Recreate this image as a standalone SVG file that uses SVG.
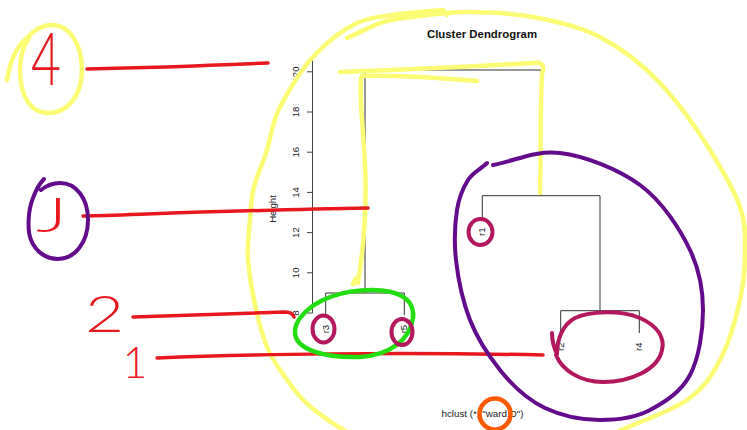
<svg xmlns="http://www.w3.org/2000/svg" width="747" height="430" viewBox="0 0 747 430">
<style>
.bg{fill:#ffffff}
.lbl{font-family:"Liberation Sans",Arial,sans-serif;font-size:9.6px;fill:#222}
.title{font-family:"Liberation Sans",Arial,sans-serif;font-size:11.4px;font-weight:bold;fill:#111}
.dl{fill:none;stroke:#333;stroke-width:1}
.ax{fill:none;stroke:#444;stroke-width:1}
.hand{fill:none;stroke-linecap:round;stroke-linejoin:round}
.yel{stroke:#fcfc74;stroke-width:4.5}
.red{stroke:#e8191e;stroke-width:3.5}
.pur{stroke:#640a8c;stroke-width:4}
.grn{stroke:#22dd0f;stroke-width:4.5}
.mag{stroke:#b3185f;stroke-width:4}
.org{stroke:#ff5a00;stroke-width:4.5}
.num{font-family:Lato,"Open Sans",sans-serif;font-weight:300;fill:#e8191e}
</style>
<rect class="bg" x="0" y="0" width="747" height="430"/>

<text class="title" x="482" y="38.3" text-anchor="middle">Cluster Dendrogram</text>

<g id="axis">
  <path class="ax" d="M312.5,58 V313 M307,313 H312.5 M307,272.8 H312.5 M307,232.6 H312.5 M307,192.4 H312.5 M307,152.2 H312.5 M307,112 H312.5 M307,71.8 H312.5"/>
  <text class="lbl" text-anchor="middle" transform="translate(299,313) rotate(-90)">8</text>
  <text class="lbl" text-anchor="middle" transform="translate(299,272.8) rotate(-90)">10</text>
  <text class="lbl" text-anchor="middle" transform="translate(299,232.6) rotate(-90)">12</text>
  <text class="lbl" text-anchor="middle" transform="translate(299,192.4) rotate(-90)">14</text>
  <text class="lbl" text-anchor="middle" transform="translate(299,152.2) rotate(-90)">16</text>
  <text class="lbl" text-anchor="middle" transform="translate(299,112) rotate(-90)">18</text>
  <text class="lbl" text-anchor="middle" transform="translate(299,71.8) rotate(-90)">20</text>
  <text class="lbl" text-anchor="middle" transform="translate(276,209) rotate(-90)">Height</text>
</g>

<g id="connectors">
  <path class="dl" d="M325.7,315.3 V293 H404.3 V315.3"/>
  <path class="dl" d="M365,293 V70 H541.2 V195.7"/>
  <path class="dl" d="M482.3,218 V195.7 H600 V310.7"/>
  <path class="dl" d="M560.7,333 V310.7 H639.3 V333"/>
</g>

<g id="r3"><text class="lbl" text-anchor="end" transform="translate(328.7,324.8) rotate(-90)">r3</text></g>
<g id="r5"><text class="lbl" text-anchor="end" transform="translate(407.3,324.8) rotate(-90)">r5</text></g>
<g id="r1"><text class="lbl" text-anchor="end" transform="translate(485.3,227.5) rotate(-90)">r1</text></g>
<g id="r2"><text class="lbl" text-anchor="end" transform="translate(563.7,342.5) rotate(-90)">r2</text></g>
<g id="r4"><text class="lbl" text-anchor="end" transform="translate(642.3,342.5) rotate(-90)">r4</text></g>

<text class="lbl" x="482.5" y="417" text-anchor="middle" style="font-size:9.8px">hclust (*, "ward.D")</text>

<g id="yellow-marks">
  <path class="hand yel" d="M347,38 C359,33 371,26 383,22 S406,18 420,16 S448,12 467,12 S511,13 533,17 S579,26 600,37 S642,64 660,83 S697,129 710,150 S734,190 740,207 S745,237 745,253 S744,282 740,300 S729,343 720,360 S704,388 687,400 S638,422 617,432 S596,455 560,460 S435,465 400,460 S361,440 347,432 S326,419 317,412 S301,399 293,388 S273,362 267,347 S257,315 254,300 S249,272 248,259 S249,232 250,220 S251,199 254,187 S263,163 267,150 S272,122 280,107 S300,71 313,57 S342,30 357,23 S386,16 400,14 S429,11 443,10 l4,5"/>
  <path class="hand yel" d="M340,72 C400,70 480,66 533,63 C542,61 545,66 542,74 C540,110 541,160 540,193"/>
  <path class="hand yel" d="M477,81 C440,78 395,75 362,76 C358,82 363,125 365,165 C367,205 364,245 358,283 M356,278 L353,284"/>
  <path class="hand yel" d="M7,80 C10,60 18,45 28,37 C36,28 45,25 52,25 C70,25 82,45 82,70 C82,95 68,113 48,113 C30,113 20,95 20,70 C20,55 24,45 29,38"/>
</g>

<g id="red-marks">
  <path class="hand red" d="M87,69 C140,68 200,66 268,63"/>
  <path class="hand red" d="M83,216 C150,214 250,210 368,208"/>
  <path class="hand red" d="M133,317 C190,315 240,313 285,312 C290,312 293,314 294,317"/>
  <path class="hand red" d="M157,358 C250,354 400,352 543,355"/>
  <text class="num" font-size="72" transform="translate(31,85) scale(0.72,1)">4</text>
  <text class="num" font-size="47" transform="translate(36,232) scale(1.6,1)">J</text>
  <text class="num" font-size="52" transform="translate(85,332) scale(1.3,1)">2</text>
  <text class="num" font-size="43" x="135" y="378" text-anchor="middle">1</text>
</g>

<g id="green-mark">
  <path class="hand grn" d="M300,318 C315,298 345,290 372,290 C400,290 415,300 413,318 C410,340 390,355 360,357 C325,358 295,350 295,332 C295,326 297,322 300,318"/>
</g>

<g id="purple-marks">
  <path class="hand pur" d="M493,165 C515,161 535,150 560,153 S618,169 640,185 S680,229 690,250 S703,289 703,310 S699,358 690,375 S665,402 650,410 S617,420 600,420 S562,416 545,408 S512,385 500,370 S477,338 470,320 S458,278 456,260 S455,223 457,210 S463,188 468,180 S481,169 487,163"/>
  <path class="hand pur" d="M44,179 C40,183 36,190 33,198 C28,210 27,230 31,240 C36,252 46,259 58,259 C75,259 88,242 88,220 C88,198 76,183 60,183 C52,183 46,186 41,190"/>
</g>

<g id="magenta-marks">
  <ellipse class="hand mag" cx="323.5" cy="329" rx="11" ry="13.5"/>
  <ellipse class="hand mag" cx="402" cy="332" rx="10.5" ry="13"/>
  <ellipse class="hand mag" cx="480.5" cy="232" rx="12" ry="13"/>
  <path class="hand mag" d="M552,333 C552,340 554,348 557,354 C557,340 562,325 575,318 C590,311 620,310 640,318 C658,326 665,338 662,350 C658,370 630,382 603,382 C580,382 562,370 556,355"/>
</g>

<g id="orange-mark">
  <ellipse class="hand org" cx="495" cy="414" rx="15.5" ry="15.5"/>
</g>
</svg>
